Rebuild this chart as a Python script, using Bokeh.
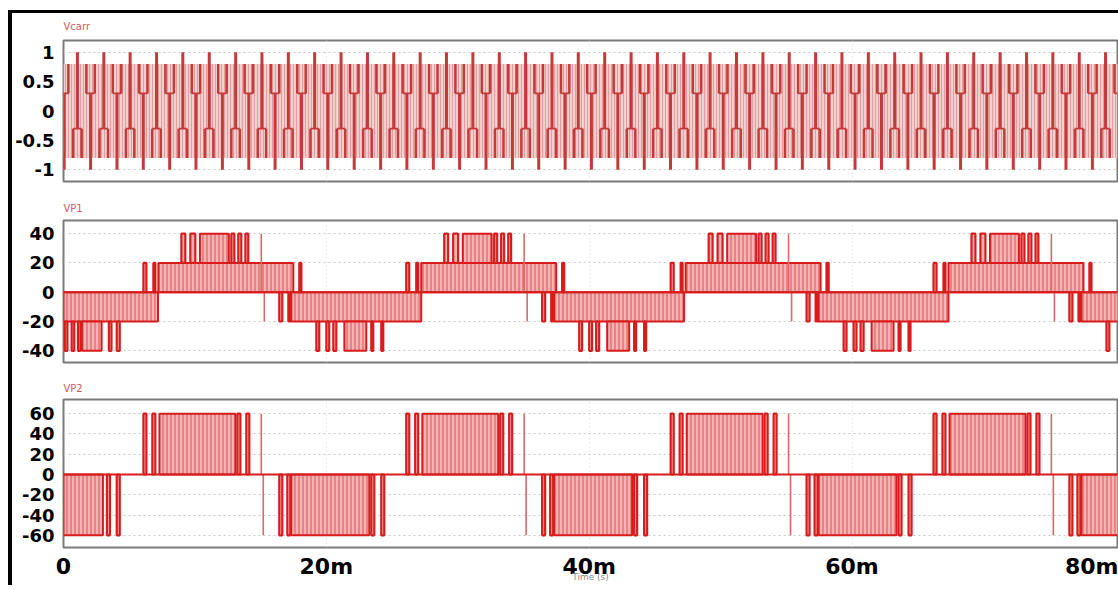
from bokeh.plotting import figure
from bokeh.layouts import column
from bokeh.models import FixedTicker, Range1d, Span, ColumnDataSource
from bokeh.embed import file_html
from bokeh.resources import INLINE

# ---------------- data (time axis in ms) ----------------
time_ticks = [0, 20, 40, 60, 80]
time_tick_labels = ["0", "20m", "40m", "60m", "80m"]
time_span = (0, 80.2)

vcarr_ticks = [-1, -0.5, 0, 0.5, 1]
vcarr_tick_labels = ["-1", "-0.5", "0", "0.5", "1"]
vcarr_range = (-1.2, 1.2)
vp1_ticks = [-40, -20, 0, 20, 40]
vp1_tick_labels = ["-40", "-20", "0", "20", "40"]
vp1_range = (-48, 49)
vp2_ticks = [-60, -40, -20, 0, 20, 40, 60]
vp2_tick_labels = ["-60", "-40", "-20", "0", "20", "40", "60"]
vp2_range = (-72, 74)

# Vcarr: the trace shows a 2 ms beat pattern; starts of each beat (top spikes)
vcarr_cycle_starts = [-0.95, 1.06, 3.07, 5.07, 7.08, 9.08, 11.09, 13.10, 15.10, 17.11,
                      19.11, 21.12, 23.13, 25.13, 27.14, 29.14, 31.15, 33.16, 35.16, 37.17,
                      39.17, 41.18, 43.19, 45.19, 47.20, 49.20, 51.21, 53.22, 55.22, 57.23,
                      59.23, 61.24, 63.25, 65.25, 67.26, 69.26, 71.27, 73.28, 75.28, 77.29,
                      79.29]
vcarr_band_low, vcarr_band_high = -0.8, 0.8
# vertical strokes inside one beat: offset (ms), from, to
vcarr_vert_offset = [0.00, 1.00, 0.32, 1.68, 0.68, 1.32]
vcarr_vert_from = [-0.30, -1.00, -0.80, -0.80, 0.30, 0.30]
vcarr_vert_to = [1.00, 0.30, -0.30, -0.30, 0.80, 0.80]
vcarr_vert_tall = [True, True, False, False, False, False]
# horizontal strokes inside one beat: from offset, to offset, level
vcarr_horiz_from = [0.00, 1.68, 0.68]
vcarr_horiz_to = [0.32, 2.00, 1.32]
vcarr_horiz_level = [-0.30, -0.30, 0.30]

# VP1 (5-level): dense switching bands (start, end)
vp1_band_0_20 = [(7.22, 17.49), (27.22, 37.49), (47.34, 57.61), (67.34, 77.61)]
vp1_band_m20_0 = [(0.0, 7.19), (17.33, 27.22), (37.33, 47.22), (57.45, 67.34), (77.45, 80.3)]
vp1_band_20_40 = [(10.38, 12.58), (30.38, 32.58), (50.5, 52.7), (70.5, 72.7)]
vp1_band_m40_m20 = [(1.4, 2.9), (21.37, 23.04), (41.37, 43.04), (61.49, 63.16)]
# VP1 isolated pulses (start, end)
vp1_pulse_0_20 = [(6.08, 6.31), (6.84, 6.99), (17.94, 18.1), (26.08, 26.31), (26.84, 26.99),
                  (37.94, 38.1), (46.2, 46.43), (46.96, 47.11), (58.06, 58.22), (66.2, 66.43),
                  (66.96, 67.11), (78.06, 78.22)]
vp1_pulse_20_40 = [(8.97, 9.27), (9.65, 10.03), (12.77, 13.0), (13.3, 13.53), (13.84, 14.06),
                   (28.97, 29.27), (29.65, 30.03), (32.77, 33.0), (33.3, 33.53), (33.84, 34.06),
                   (49.09, 49.39), (49.77, 50.15), (52.89, 53.12), (53.42, 53.65), (53.96, 54.18),
                   (69.09, 69.39), (69.77, 70.15), (72.89, 73.12), (73.42, 73.65), (73.96, 74.18)]
vp1_pulse_m20_0 = [(16.42, 16.65), (17.11, 17.26), (36.42, 36.65), (37.11, 37.26),
                   (56.54, 56.77), (57.23, 57.38), (76.54, 76.77), (77.23, 77.38)]
vp1_pulse_m40_m20 = [(0.1, 0.3), (0.62, 0.82), (1.1, 1.3), (3.45, 3.65), (4.05, 4.28),
                     (19.24, 19.46), (20.0, 20.22), (20.53, 20.76), (23.42, 23.57), (24.18, 24.33),
                     (39.24, 39.46), (40.0, 40.22), (40.53, 40.76), (43.42, 43.57), (44.18, 44.33),
                     (59.36, 59.58), (60.12, 60.34), (60.65, 60.88), (63.54, 63.69), (64.3, 64.45),
                     (79.36, 79.58)]
vp1_spike_0_40 = [15.05, 35.05, 55.17, 75.17]
vp1_spike_m20_0 = [15.28, 35.28, 55.4, 75.4]

# VP2 (3-level)
vp2_band_0_60 = [(7.30, 13.08), (27.30, 33.08), (47.42, 53.2), (67.42, 73.2)]
vp2_band_m60_0 = [(0.0, 3.0), (17.33, 23.27), (37.33, 43.27), (57.45, 63.39), (77.45, 80.3)]
vp2_pulse_0_60 = [(6.08, 6.31), (6.76, 6.99), (13.23, 13.46), (13.91, 14.14),
                  (26.08, 26.31), (26.76, 26.99), (33.23, 33.46), (33.91, 34.14),
                  (46.2, 46.43), (46.88, 47.11), (53.35, 53.58), (54.03, 54.26),
                  (66.2, 66.43), (66.88, 67.11), (73.35, 73.58), (74.03, 74.26)]
vp2_pulse_m60_0 = [(3.3, 3.53), (4.05, 4.28), (16.42, 16.65), (17.03, 17.26), (23.42, 23.65),
                   (24.18, 24.41), (36.42, 36.65), (37.03, 37.26), (43.42, 43.65), (44.18, 44.41),
                   (56.54, 56.77), (57.15, 57.38), (63.54, 63.77), (64.3, 64.53),
                   (76.54, 76.77), (77.15, 77.38)]
vp2_spike_0_60 = [15.05, 35.05, 55.17, 75.17]
vp2_spike_m60_0 = [15.2, 35.2, 55.32, 75.32]

# ---------------- styling ----------------
RED = "#d81c1c"
PINK = "#f1b4b4"
CARR = "#c43a3a"
CARR_PINK = "#f3d0d0"
GRID = "#c9c9c9"
FONT = "DejaVu Sans"

x_range = Range1d(*time_span)


def make_panel(title, yr, ticks, labels, height, top, bottom, title_standoff, show_x):
    p = figure(width=1106, height=height, x_range=x_range, y_range=Range1d(*yr),
               output_backend="svg", toolbar_location=None,
               min_border_left=50, min_border_right=1,
               min_border_top=top, min_border_bottom=bottom)
    p.title.text = title
    p.title.text_color = "#d25c5c"
    p.title.text_font = FONT
    p.title.text_font_size = "10px"
    p.title.text_font_style = "normal"
    p.title.align = "left"
    p.title.vertical_align = "top"
    p.title.standoff = title_standoff
    p.outline_line_color = "#7a7a7a"
    p.outline_line_width = 2
    p.background_fill_color = "white"
    p.border_fill_color = "white"

    ax = p.yaxis[0]
    ax.ticker = FixedTicker(ticks=ticks)
    ax.major_label_overrides = {t: s for t, s in zip(ticks, labels)}
    ax.axis_line_color = None
    ax.major_tick_line_color = None
    ax.minor_tick_line_color = None
    ax.major_tick_out = 0
    ax.major_tick_in = 0
    ax.minor_tick_out = 0
    ax.major_label_text_font = FONT
    ax.major_label_text_font_style = "bold"
    ax.major_label_text_font_size = "18px"
    ax.major_label_text_color = "black"
    ax.major_label_standoff = 9

    p.ygrid.ticker = FixedTicker(ticks=ticks)
    p.ygrid.grid_line_color = GRID
    p.ygrid.grid_line_dash = "2 3"
    p.xgrid.ticker = FixedTicker(ticks=time_ticks[1:-1])
    p.xgrid.grid_line_color = "#dddddd"
    p.xgrid.grid_line_dash = "1 3"

    xa = p.xaxis[0]
    if show_x:
        xa.ticker = FixedTicker(ticks=time_ticks)
        xa.major_label_overrides = {t: s for t, s in zip(time_ticks, time_tick_labels)}
        xa.axis_line_color = None
        xa.major_tick_line_color = None
        xa.minor_tick_line_color = None
        xa.major_tick_out = 0
        xa.major_tick_in = 0
        xa.minor_tick_out = 0
        xa.major_label_text_font = FONT
        xa.major_label_text_font_style = "bold"
        xa.major_label_text_font_size = "22px"
        xa.major_label_text_color = "black"
        xa.major_label_standoff = 6
        xa.axis_label = "Time (s)"
        xa.axis_label_text_font = FONT
        xa.axis_label_text_font_size = "9px"
        xa.axis_label_text_font_style = "normal"
        xa.axis_label_text_color = "#8a8a8a"
        xa.axis_label_standoff = -10
    else:
        xa.visible = False
    return p


def band_source(pairs, lo, hi):
    return ColumnDataSource(dict(left=[a for a, b in pairs], right=[b for a, b in pairs],
                                 bottom=[lo] * len(pairs), top=[hi] * len(pairs)))


def draw_bands(p, pairs, lo, hi):
    p.quad(left="left", right="right", bottom="bottom", top="top",
           source=band_source(pairs, lo, hi), fill_color=PINK, fill_alpha=1.0,
           hatch_pattern="vertical_line", hatch_color=RED, hatch_alpha=0.55,
           hatch_scale=4, hatch_weight=1.2, line_color=RED, line_width=2)


def draw_pulses(p, pairs, lo, hi):
    p.quad(left="left", right="right", bottom="bottom", top="top",
           source=band_source(pairs, lo, hi), fill_color=PINK, line_color=RED,
           line_width=2.2)


def draw_spikes(p, times, lo, hi):
    p.segment(x0=times, x1=times, y0=[lo] * len(times), y1=[hi] * len(times),
              line_color="#d66a6a", line_width=1.6)


# ---------------- panel 1: Vcarr ----------------
p1 = make_panel("Vcarr", vcarr_range, vcarr_ticks, vcarr_tick_labels, 183, 27, 15, 13, False)
p1.quad(left=[time_span[0]], right=[vcarr_cycle_starts[-1] + 2.0],
        bottom=[vcarr_band_low], top=[vcarr_band_high],
        fill_color=CARR_PINK, line_color=None,
        hatch_pattern="vertical_line", hatch_color="#de9090", hatch_alpha=0.8,
        hatch_scale=3, hatch_weight=1)
vx, vy0, vy1, vw = [], [], [], []
for s in vcarr_cycle_starts:
    for o, a, b, tall in zip(vcarr_vert_offset, vcarr_vert_from, vcarr_vert_to, vcarr_vert_tall):
        vx.append(s + o); vy0.append(a); vy1.append(b); vw.append(3.0 if tall else 2.5)
p1.segment(x0="x", x1="x", y0="y0", y1="y1", line_width="w", line_color=CARR,
           source=ColumnDataSource(dict(x=vx, y0=vy0, y1=vy1, w=vw)))
hx0, hx1, hy = [], [], []
for s in vcarr_cycle_starts:
    for a, b, lv in zip(vcarr_horiz_from, vcarr_horiz_to, vcarr_horiz_level):
        hx0.append(s + a); hx1.append(s + b); hy.append(lv)
p1.segment(x0=hx0, x1=hx1, y0=hy, y1=hy, line_color=CARR, line_width=1.8)

# ---------------- panel 2: VP1 ----------------
p2 = make_panel("VP1", vp1_range, vp1_ticks, vp1_tick_labels, 182, 24, 16, 10, False)
p2.add_layout(Span(location=0, dimension="width", line_color=RED, line_width=2))
draw_bands(p2, vp1_band_0_20, 0, 20)
draw_bands(p2, vp1_band_m20_0, -20, 0)
draw_bands(p2, vp1_band_20_40, 20, 40)
draw_bands(p2, vp1_band_m40_m20, -40, -20)
draw_pulses(p2, vp1_pulse_0_20, 0, 20)
draw_pulses(p2, vp1_pulse_20_40, 20, 40)
draw_pulses(p2, vp1_pulse_m20_0, -20, 0)
draw_pulses(p2, vp1_pulse_m40_m20, -40, -20)
draw_spikes(p2, vp1_spike_0_40, 0, 40)
draw_spikes(p2, vp1_spike_m20_0, -20, 0)

# ---------------- panel 3: VP2 ----------------
p3 = make_panel("VP2", vp2_range, vp2_ticks, vp2_tick_labels, 207, 21, 38, 7, True)
p3.add_layout(Span(location=0, dimension="width", line_color=RED, line_width=2))
draw_bands(p3, vp2_band_0_60, 0, 60)
draw_bands(p3, vp2_band_m60_0, -60, 0)
draw_pulses(p3, vp2_pulse_0_60, 0, 60)
draw_pulses(p3, vp2_pulse_m60_0, -60, 0)
draw_spikes(p3, vp2_spike_0_60, 0, 60)
draw_spikes(p3, vp2_spike_m60_0, -60, 0)

layout = column(p1, p2, p3, spacing=0,
                styles={"border-top": "3px solid black", "border-left": "4px solid black",
                        "margin-top": "10px", "margin-left": "8px"})

open("out.html", "w").write(file_html(layout, INLINE))
